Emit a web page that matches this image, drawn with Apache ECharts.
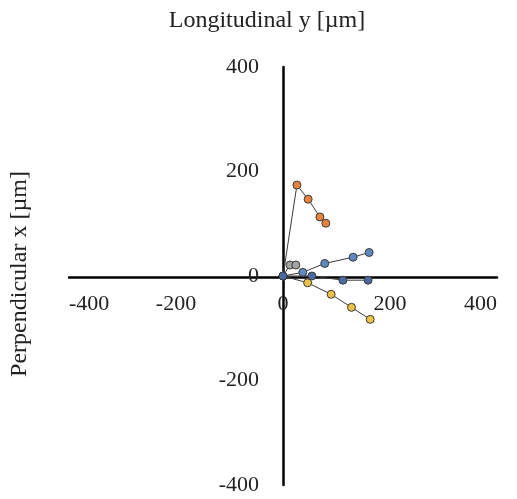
<!DOCTYPE html>
<html>
<head>
<meta charset="utf-8">
<script src="https://cdn.jsdelivr.net/npm/echarts@6/dist/echarts.min.js"></script>
<style>
  html, body { margin: 0; padding: 0; background: #fff; }
  #chart { width: 517px; height: 499px; }
</style>
</head>
<body>
<div id="chart"></div>
<script>
// tick values for both axes
const ticks = [-400, -200, 0, 200, 400];

// [longitudinal y, perpendicular x] points for each track
const orangeTrack = [[0, 0], [26, 174], [47, 147], [69, 113], [80, 101]];
const grayTrack = [[0, 0], [13, 21], [24, 21]];
const blueUpperTrack = [[0, 0], [37, 7], [78, 24], [131, 36], [161, 45]];
const blueLowerTrack = [[0, 0], [54, 0], [112, -8], [159, -8]];
const yellowTrack = [[0, 0], [46, -13], [90, -35], [128, -60], [163, -83]];

// later entries are drawn on top (blue marker shows at the origin)
const tracks = [
  { data: orangeTrack, color: '#E5843F' },
  { data: grayTrack, color: '#A3A3A3' },
  { data: yellowTrack, color: '#EBC245' },
  { data: blueUpperTrack, color: '#5F89BE' },
  { data: blueLowerTrack, color: '#4A6AA2' }
];

const font = 'Liberation Serif, Times New Roman, serif';

// plot box, the axes cross in its middle
const gLeft = 69, gRight = 20, gTop = 67, gBottom = 14;
const plotW = 517 - gLeft - gRight;
const plotH = 499 - gTop - gBottom;

var myChart = echarts.init(document.getElementById('chart'));

var option = {
  animation: false,
  grid: { left: gLeft, right: gRight, top: gTop, bottom: gBottom, outerBoundsMode: 'none', containLabel: false },
  xAxis: {
    type: 'value',
    min: ticks[0],
    max: ticks[ticks.length - 1],
    interval: 200,
    position: 'bottom',
    offset: -(plotH / 2 - 1),
    axisLine: { onZero: false, lineStyle: { color: '#000', width: 2.5 } },
    axisTick: { show: false },
    splitLine: { show: false },
    axisLabel: {
      margin: 16,
      fontFamily: font,
      fontSize: 22,
      color: '#222',
      alignMinLabel: 'left',
      alignMaxLabel: 'right'
    }
  },
  yAxis: {
    type: 'value',
    min: ticks[0],
    max: ticks[ticks.length - 1],
    interval: 200,
    position: 'left',
    offset: -plotW / 2,
    axisLine: { onZero: false, lineStyle: { color: '#000', width: 2.5 } },
    axisTick: { show: false },
    splitLine: { show: false },
    axisLabel: {
      margin: 24,
      fontFamily: font,
      fontSize: 22,
      color: '#222'
    }
  },
  graphic: [
    {
      type: 'text',
      x: 267,
      y: 21,
      style: {
        text: 'Longitudinal y [µm]',
        font: '24px ' + font,
        fill: '#222',
        align: 'center',
        verticalAlign: 'middle'
      }
    },
    {
      type: 'text',
      x: 20,
      y: 274,
      rotation: Math.PI / 2,
      style: {
        text: 'Perpendicular x [µm]',
        font: '24px ' + font,
        fill: '#222',
        align: 'center',
        verticalAlign: 'middle'
      }
    }
  ],
  series: tracks.map(t => ({
    type: 'line',
    data: t.data,
    symbol: 'circle',
    symbolSize: 8,
    lineStyle: { color: '#3a3a3a', width: 1 },
    itemStyle: { color: t.color, borderColor: '#3a3a3a', borderWidth: 1 }
  }))
};

option && myChart.setOption(option);
</script>
</body>
</html>
